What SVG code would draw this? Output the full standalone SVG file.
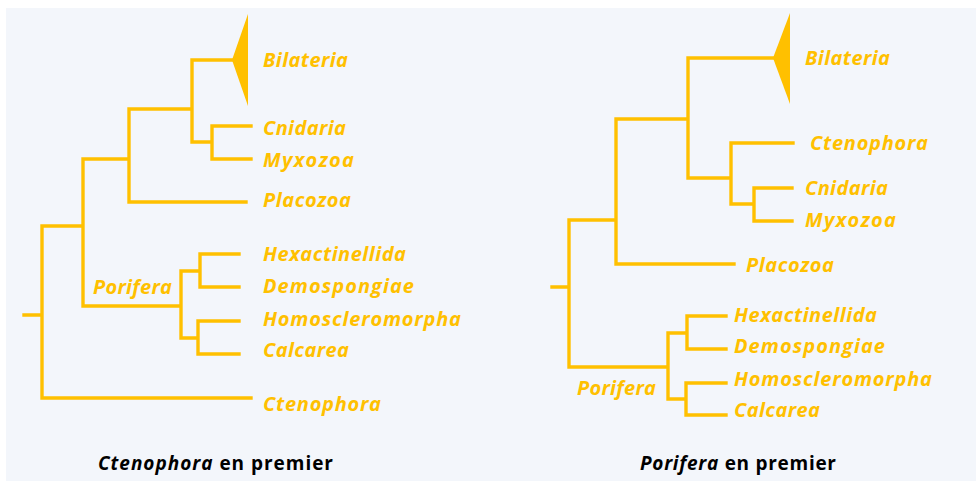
<svg xmlns="http://www.w3.org/2000/svg" width="976" height="481" viewBox="0 0 976 481">
<style>
.br{fill:none;stroke:#FFC000;stroke-width:3.4;stroke-linejoin:miter;stroke-linecap:square}
.lb{font-family:"Open Sans","Noto Sans","DejaVu Sans",sans-serif;font-weight:bold;font-style:italic;font-size:20px;fill:#FFC000}
.cap{font-family:"Open Sans","Noto Sans","DejaVu Sans",sans-serif;font-weight:bold;font-size:19px;fill:#000}
.tri{fill:#FFC000}
</style>
<rect width="976" height="481" fill="#FFFFFF"/>
<rect x="6" y="8" width="970" height="473" fill="#F3F6FB"/>

<g id="connectors">
  <!-- left tree -->
  <path class="br" d="M24,315 H42 M42,226 V398 H251 M42,226 H83 M83,159 V306 H181 M83,159 H129 M129,109 V202 H246 M129,109 H192 M192,60 V142 H212 M192,60 H232 M212,126 V159 M212,126 H251 M212,159 H251 M181,271 V338 M181,271 H200 M200,254 V287 M200,254 H239 M200,287 H239 M181,338 H198 M198,321 V354 M198,321 H239 M198,354 H239"/>
  <!-- right tree -->
  <path class="br" d="M552,287 H569 M569,220 V367 H668 M569,220 H616 M616,119 V264 H734 M616,119 H688 M688,58 V178 H731 M688,58 H773 M731,143 V204 M731,143 H793 M731,204 H754 M754,188 V221 M754,188 H792 M754,221 H792 M668,333 V399 M668,333 H687 M687,316 V349 M687,316 H726 M687,349 H726 M668,399 H686 M686,383 V415 M686,383 H726 M686,415 H726"/>
</g>

<g id="left-bilateria"><polygon class="tri" points="232,60 248,14 248,106"/><text class="lb" x="263" y="67" textLength="85">Bilateria</text></g>
<g id="left-cnidaria"><text class="lb" x="263" y="135" textLength="83">Cnidaria</text></g>
<g id="left-myxozoa"><text class="lb" x="263" y="167" textLength="91">Myxozoa</text></g>
<g id="left-placozoa"><text class="lb" x="263" y="207" textLength="88">Placozoa</text></g>
<g id="left-porifera"><text class="lb" x="93" y="294" textLength="79">Porifera</text></g>
<g id="left-hexactinellida"><text class="lb" x="263" y="261" textLength="143">Hexactinellida</text></g>
<g id="left-demospongiae"><text class="lb" x="263" y="293" textLength="151">Demospongiae</text></g>
<g id="left-homoscleromorpha"><text class="lb" x="263" y="326" textLength="198">Homoscleromorpha</text></g>
<g id="left-calcarea"><text class="lb" x="263" y="357" textLength="86">Calcarea</text></g>
<g id="left-ctenophora"><text class="lb" x="263" y="411" textLength="118">Ctenophora</text></g>
<g id="left-caption"><text class="cap" x="98" y="470" textLength="235"><tspan font-style="italic">Ctenophora</tspan> en premier</text></g>

<g id="right-bilateria"><polygon class="tri" points="773,58 790,13 790,104"/><text class="lb" x="805" y="65" textLength="85">Bilateria</text></g>
<g id="right-ctenophora"><text class="lb" x="810" y="150" textLength="118">Ctenophora</text></g>
<g id="right-cnidaria"><text class="lb" x="805" y="195" textLength="83">Cnidaria</text></g>
<g id="right-myxozoa"><text class="lb" x="805" y="227" textLength="91">Myxozoa</text></g>
<g id="right-placozoa"><text class="lb" x="746" y="272" textLength="88">Placozoa</text></g>
<g id="right-hexactinellida"><text class="lb" x="734" y="322" textLength="143">Hexactinellida</text></g>
<g id="right-demospongiae"><text class="lb" x="734" y="353" textLength="151">Demospongiae</text></g>
<g id="right-homoscleromorpha"><text class="lb" x="734" y="386" textLength="198">Homoscleromorpha</text></g>
<g id="right-calcarea"><text class="lb" x="734" y="417" textLength="86">Calcarea</text></g>
<g id="right-porifera"><text class="lb" x="577" y="395" textLength="79">Porifera</text></g>
<g id="right-caption"><text class="cap" x="640" y="470" textLength="196"><tspan font-style="italic">Porifera</tspan> en premier</text></g>
</svg>
